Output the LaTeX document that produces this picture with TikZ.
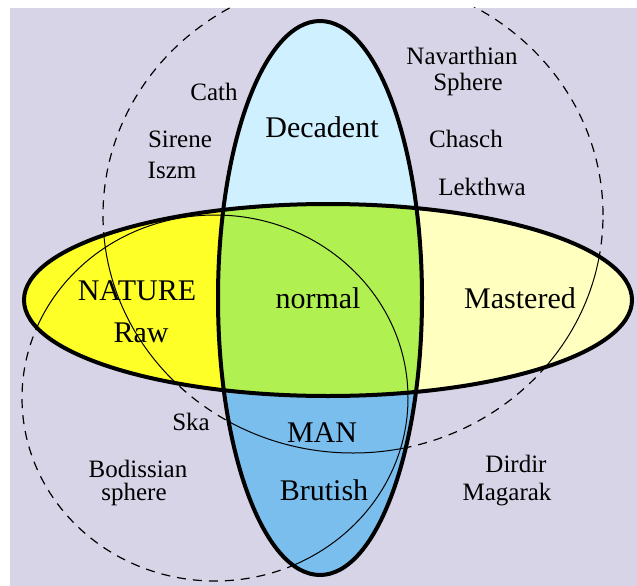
\documentclass[tikz,border=0pt]{standalone}
\usepackage{fontspec}
\setmainfont{Liberation Serif}

\definecolor{lavender}{RGB}{214,212,230}
\definecolor{rawyellow}{RGB}{255,255,40}
\definecolor{paleyellow}{RGB}{255,255,192}
\definecolor{normalgreen}{RGB}{176,240,80}
\definecolor{paleblue}{RGB}{206,240,255}
\definecolor{manblue}{RGB}{122,190,238}

\tikzset{
    region/.style={font=\fontsize{30}{32}\selectfont, anchor=base, inner sep=0pt},
    race/.style={font=\fontsize{25}{27}\selectfont, anchor=base, inner sep=0pt},
    sphereline/.style={line width=1.2pt, dash pattern=on 9pt off 7pt},
    innerline/.style={line width=1pt},
    rim/.style={line width=4pt},
}

\begin{document}
\begin{tikzpicture}[x=1pt, y=-1pt]
    \useasboundingbox (0,0) rectangle (637,586);
    \fill[white] (0,0) rectangle (637,586);
    \fill[lavender] (10,8) rectangle (637,586);

    % the two spheres, dashed outside
    \begin{scope}
        \clip (10,8) rectangle (637,586);
        \draw[sphereline] (215,398) ellipse [x radius=193pt, y radius=183pt];
        \draw[sphereline] (353,215) ellipse [x radius=250pt, y radius=238pt];
    \end{scope}

    % MAN ellipse
    \begin{scope}
        \clip (320,298) ellipse [x radius=102pt, y radius=277pt];
        \fill[paleblue] (200,0) rectangle (440,300);
        \fill[manblue] (200,300) rectangle (440,586);
    \end{scope}

    % NATURE ellipse
    \begin{scope}
        \clip (328,300) ellipse [x radius=304pt, y radius=96pt];
        \fill[rawyellow] (0,190) rectangle (320,410);
        \fill[paleyellow] (320,190) rectangle (637,410);
        \fill[normalgreen] (320,298) ellipse [x radius=102pt, y radius=277pt];
    \end{scope}

    % spheres again, solid inside the ellipses
    \begin{scope}
        \clip (328,300) ellipse [x radius=304pt, y radius=96pt]
              (320,298) ellipse [x radius=102pt, y radius=277pt];
        \draw[innerline] (215,398) ellipse [x radius=193pt, y radius=183pt];
        \draw[innerline] (353,215) ellipse [x radius=250pt, y radius=238pt];
    \end{scope}

    \draw[rim] (320,298) ellipse [x radius=102pt, y radius=277pt];
    \draw[rim] (328,300) ellipse [x radius=304pt, y radius=96pt];

    \foreach \p/\nm/\txt in {(322,137)/decadent/Decadent, (137,300)/nature/NATURE,
        (141,342)/raw/Raw, (318,308)/normal/normal, (520,308)/mastered/Mastered,
        (322,442)/man/MAN, (324,500)/brutish/Brutish} {
        \node[region] (\nm) at \p {\txt};
    }

    \foreach \p/\nm/\txt in {(214,100)/cath/Cath, (180,147)/sirene/Sirene,
        (172,178)/iszm/Iszm, (462,65)/navarthian/Navarthian, (468,90)/sphereN/Sphere,
        (466,147)/chasch/Chasch, (482,195)/lekthwa/Lekthwa, (191,430)/ska/Ska,
        (138,477)/bodissian/Bodissian, (134,500)/sphereB/sphere,
        (516,472)/dirdir/Dirdir, (507,500)/magarak/Magarak} {
        \node[race] (\nm) at \p {\txt};
    }
\end{tikzpicture}
\end{document}
